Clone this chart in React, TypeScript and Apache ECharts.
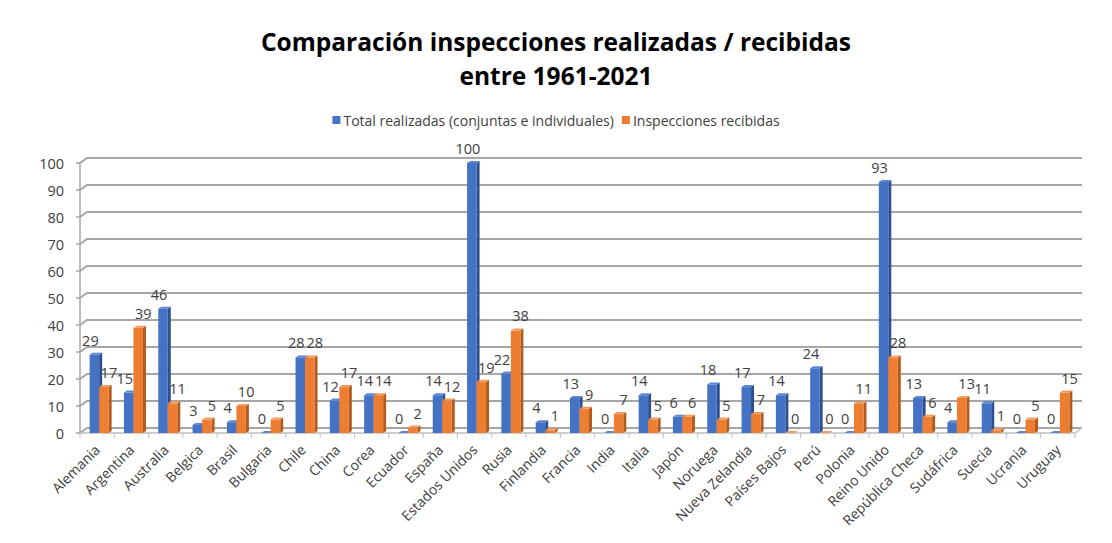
import React, { useEffect, useRef } from "react";
import * as echarts from "echarts";

const categories = [
  "Alemania", "Argentina", "Australia", "Belgica", "Brasil", "Bulgaria", "Chile", "China", "Corea",
  "Ecuador", "España", "Estados Unidos", "Rusia", "Finlandia", "Francia", "India", "Italia", "Japón",
  "Noruega", "Nueva Zelandia", "Países Bajos", "Perú", "Polonia", "Reino Unido", "República Checa",
  "Sudáfrica", "Suecia", "Ucrania", "Uruguay",
];
const realizadas = [29, 15, 46, 3, 4, 0, 28, 12, 14, 0, 14, 100, 22, 4, 13, 0, 14, 6, 18, 17, 14, 24, 0, 93, 13, 4, 11, 0, 0];
const recibidas = [17, 39, 11, 5, 10, 5, 28, 17, 14, 2, 12, 19, 38, 1, 9, 7, 5, 6, 5, 7, 0, 0, 11, 28, 6, 13, 1, 5, 15];
const yTicks = [0, 10, 20, 30, 40, 50, 60, 70, 80, 90, 100];

const seriesNames = ["Total realizadas (conjuntas e individuales)", "Inspecciones recibidas"];
const FONT = "'Open Sans', 'Noto Sans', sans-serif";
const DX = 7;
const DY = 5;

function barRenderer(offset: number, w: number, labelShift: number, front: string, side: string, top: string) {
  return (params: any, api: any) => {
    const idx = api.value(0);
    const v = api.value(1);
    const base = api.coord([idx, 0]);
    const tp = api.coord([idx, v]);
    const x0 = base[0] + offset;
    const d = 3;
    const dy = 2;
    const y1 = tp[1];
    const y0 = base[1];
    return {
      type: "group",
      children: [
        {
          type: "polygon",
          shape: { points: [[x0 + w, y1], [x0 + w + d, y1 - dy], [x0 + w + d, y0 - dy], [x0 + w, y0]] },
          style: { fill: side },
        },
        {
          type: "rect",
          shape: { x: x0, y: y1, width: w, height: Math.max(0, y0 - y1) },
          style: { fill: front },
        },
        {
          type: "polygon",
          shape: { points: [[x0, y1], [x0 + d, y1 - dy], [x0 + w + d, y1 - dy], [x0 + w, y1]] },
          style: { fill: top },
        },
        {
          type: "text",
          style: {
            text: String(v),
            x: x0 + w / 2 + labelShift,
            y: y1 - 7,
            align: "center",
            verticalAlign: "bottom",
            font: `14.5px ${FONT}`,
            fill: "#404040",
          },
        },
      ],
    };
  };
}

export default function App() {
  const ref = useRef<HTMLDivElement>(null);
  useEffect(() => {
    if (!ref.current) return;
    const chart = echarts.init(ref.current, undefined, { renderer: "svg" });
    const wallData = yTicks.map((v) => [0, v]);
    const option: any = {
      animation: false,
      backgroundColor: "#ffffff",
      title: {
        text: "Comparación inspecciones realizadas / recibidas\nentre 1961-2021",
        left: "center",
        top: 19,
        textStyle: { fontFamily: FONT, fontSize: 24.5, fontWeight: "bold", color: "#000", lineHeight: 34 },
      },
      legend: {
        top: 108,
        left: "center",
        icon: "rect",
        itemWidth: 8,
        itemHeight: 8,
        itemGap: 8,
        textStyle: { fontFamily: FONT, fontSize: 14, color: "#404040", padding: [0, 0, 0, -2] },
        data: seriesNames,
      },
      grid: { left: 80, right: 37, top: 163, bottom: 110 },
      xAxis: {
        type: "category",
        data: categories,
        axisLine: { show: false },
        axisTick: { show: false },
        axisLabel: { rotate: 45, interval: 0, fontFamily: FONT, fontSize: 14, color: "#404040", margin: 14 },
      },
      yAxis: {
        type: "value",
        min: 0,
        max: 100,
        interval: 10,
        axisLine: { show: true, lineStyle: { color: "#a6a6a6", width: 1.5 } },
        axisTick: { show: true, length: 4, lineStyle: { color: "#a6a6a6", width: 1.5 } },
        splitLine: { show: false },
        axisLabel: { fontFamily: FONT, fontSize: 14.5, color: "#404040", margin: 16 },
      },
      series: [
        {
          type: "custom",
          name: "wall",
          z: 1,
          silent: true,
          data: wallData,
          encode: { x: 0, y: 1 },
          renderItem: (params: any, api: any) => {
            const cs = params.coordSys;
            const v = api.value(1);
            const y = api.coord([0, v])[1];
            const x = cs.x;
            const xr = cs.x + cs.width;
            const children: any[] = [
              {
                type: "polyline",
                shape: { points: [[x, y], [x + DX, y - DY], [xr + DX, y - DY]] },
                style: { stroke: "#a6a6a6", lineWidth: 2, fill: "none" },
              },
            ];
            if (v === 0) {
              children.push({
                type: "polyline",
                shape: { points: [[x, y], [xr, y], [xr + DX, y - DY]] },
                style: { stroke: "#bfbfbf", lineWidth: 1.5, fill: "none" },
              });
              for (let i = 0; i <= categories.length; i++) {
                const tx = x + (cs.width * i) / categories.length;
                children.push({
                  type: "line",
                  shape: { x1: tx, y1: y, x2: tx, y2: y + 5 },
                  style: { stroke: "#bfbfbf", lineWidth: 1 },
                });
              }
            }
            return { type: "group", children };
          },
        },
        {
          type: "custom",
          name: seriesNames[0],
          z: 2,
          itemStyle: { color: "#4472C4" },
          data: realizadas.map((v, i) => [i, v]),
          encode: { x: 0, y: 1 },
          renderItem: barRenderer(-7.5, 9.5, -4, "#4472C4", "#2B4F8F", "#5a86d4"),
        },
        {
          type: "custom",
          name: seriesNames[1],
          z: 3,
          itemStyle: { color: "#ED7D31" },
          data: recibidas.map((v, i) => [i, v]),
          encode: { x: 0, y: 1 },
          renderItem: barRenderer(2, 9.5, 5, "#ED7D31", "#B35A1F", "#f39a5e"),
        },
      ],
    };
    chart.setOption(option);
    return () => chart.dispose();
  }, []);
  return (
    <div
      ref={ref}
      style={{ position: "fixed", left: 0, top: 0, width: 1112, height: 543, background: "#fff" }}
    />
  );
}
